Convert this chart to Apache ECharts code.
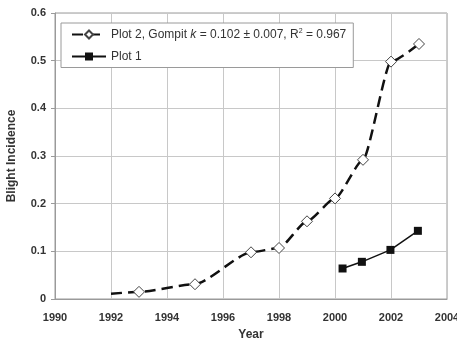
<!DOCTYPE html>
<html><head><meta charset="utf-8">
<script src="https://cdn.jsdelivr.net/npm/echarts@6/dist/echarts.min.js"></script>
<style>html,body{margin:0;padding:0;background:#fff}#c{width:457px;height:341px}</style>
</head><body><div id="c"></div>
<script>
const plot2Years = [1992, 1993, 1995, 1997, 1998, 1999, 2000, 2001, 2002, 2003];
const plot2Values = [0.011, 0.015, 0.031, 0.098, 0.107, 0.163, 0.211, 0.292, 0.498, 0.535];
const plot2Markers = [false, true, true, true, true, true, true, true, true, true];
const plot1Years = [2000.27, 2000.96, 2001.98, 2002.96];
const plot1Values = [0.064, 0.078, 0.103, 0.143];
const xTicks = [1990, 1992, 1994, 1996, 1998, 2000, 2002, 2004];
const yTicks = [0, 0.1, 0.2, 0.3, 0.4, 0.5, 0.6];

const FONT = 'Liberation Sans, Arial, sans-serif';
const chart = echarts.init(document.getElementById('c'));
chart.setOption({
  animation: false,
  backgroundColor: '#fff',
  grid: { left: 55, right: 10, top: 13, bottom: 42, show: true, borderColor: '#9a9a9a', borderWidth: 1,
    outerBoundsMode: 'none', containLabel: false },
  legend: {
    left: 61, top: 23, orient: 'vertical', itemWidth: 34, itemHeight: 10, itemGap: 10,
    padding: [5, 7, 5, 10],
    borderColor: '#9a9a9a', borderWidth: 1, backgroundColor: '#fff',
    data: ['Plot 2', 'Plot 1'],
    formatter: function (n) {
      if (n === 'Plot 2') return 'Plot 2, Gompit {i|k} = 0.102 {u|±} 0.007, R{s|2} = 0.967';
      return 'Plot 1';
    },
    textStyle: {
      fontFamily: FONT, fontSize: 12, color: '#333',
      rich: {
        i: { fontFamily: FONT, fontSize: 12, fontStyle: 'italic', color: '#333' },
        u: { fontFamily: FONT, fontSize: 12, color: '#333' },
        s: { fontFamily: FONT, fontSize: 7, color: '#333', verticalAlign: 'top', padding: [0, 0, 6, 0] }
      }
    }
  },
  xAxis: {
    type: 'value', min: xTicks[0], max: xTicks[xTicks.length - 1], interval: 2,
    name: 'Year', nameLocation: 'middle', nameGap: 30,
    nameTextStyle: { fontFamily: FONT, fontWeight: 'bold', fontSize: 12, color: '#333' },
    axisLine: { show: true, lineStyle: { color: '#9a9a9a' } },
    axisTick: { show: false },
    axisLabel: { fontFamily: FONT, fontWeight: 'bold', fontSize: 11, color: '#333', margin: 13,
      formatter: v => String(v) },
    splitLine: { show: true, lineStyle: { color: '#c8c8c8' } }
  },
  yAxis: {
    type: 'value', min: yTicks[0], max: yTicks[yTicks.length - 1], interval: 0.1,
    name: 'Blight Incidence', nameLocation: 'middle', nameGap: 37,
    nameTextStyle: { fontFamily: FONT, fontWeight: 'bold', fontSize: 12, color: '#333' },
    axisLine: { show: true, lineStyle: { color: '#9a9a9a' } },
    axisTick: { show: true, length: 4, lineStyle: { color: '#9a9a9a' } },
    axisLabel: { fontFamily: FONT, fontWeight: 'bold', fontSize: 11, color: '#333', margin: 9,
      formatter: v => String(Math.round(v * 10) / 10) },
    splitLine: { show: true, lineStyle: { color: '#c8c8c8' } }
  },
  series: [
    {
      name: 'Plot 2', type: 'line', smooth: 0.2, smoothMonotone: 'x',
      data: plot2Years.map((y, i) => ({ value: [y, plot2Values[i]], symbol: plot2Markers[i] ? 'diamond' : 'none' })),
      symbol: 'diamond', symbolSize: 11,
      itemStyle: { color: '#fff', borderColor: '#444', borderWidth: 1 },
      lineStyle: { color: '#111', width: 2.5, type: [11, 6] },
      z: 3
    },
    {
      name: 'Plot 1', type: 'line',
      data: plot1Years.map((y, i) => [y, plot1Values[i]]),
      symbol: 'rect', symbolSize: 8,
      itemStyle: { color: '#111' },
      lineStyle: { color: '#111', width: 1.5 },
      z: 4
    }
  ]
});
</script></body></html>
